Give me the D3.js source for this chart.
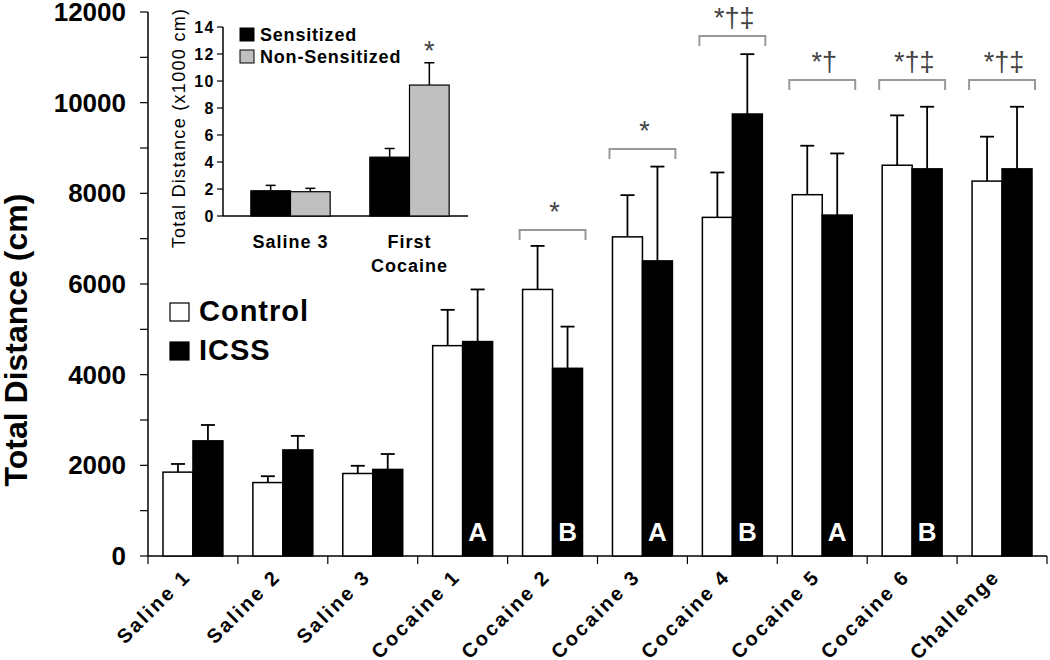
<!DOCTYPE html>
<html>
<head>
<meta charset="utf-8">
<script src="https://cdn.jsdelivr.net/npm/d3@7"></script>
<style>
  body { margin: 0; background: #fff; }
  text { font-family: Arial, 'Liberation Sans', sans-serif; }
</style>
</head>
<body>
<svg width="1050" height="660"></svg>
<script>
const categories = ['Saline 1', 'Saline 2', 'Saline 3', 'Cocaine 1', 'Cocaine 2',
    'Cocaine 3', 'Cocaine 4', 'Cocaine 5', 'Cocaine 6', 'Challenge'];
const controlMean = [1850, 1620, 1820, 4640, 5880, 7040, 7470, 7970, 8620, 8270];
const controlSem = [180, 140, 170, 790, 960, 920, 990, 1080, 1100, 980];
const icssMean = [2540, 2340, 1910, 4730, 4140, 6510, 9750, 7520, 8540, 8540];
const icssSem = [350, 310, 340, 1150, 920, 2080, 1320, 1360, 1370, 1370];
const barLetters = ['', '', '', 'A', 'B', 'A', 'B', 'A', 'B', ''];
const yTicks = [0, 2000, 4000, 6000, 8000, 10000, 12000];

// significance brackets: category, symbols, level (cm)
const sigCats = ['Cocaine 2', 'Cocaine 3', 'Cocaine 4', 'Cocaine 5', 'Cocaine 6', 'Challenge'];
const sigSymbols = ['*', '*', '*†‡', '*†', '*†‡', '*†‡'];
const sigLevels = [7190, 8980, 11470, 10500, 10500, 10500];

// inset
const insetCats = ['Saline 3', 'First Cocaine'];
const sensMean = [1.87, 4.36];
const sensSem = [0.40, 0.64];
const nonSensMean = [1.80, 9.70];
const nonSensSem = [0.25, 1.65];
const insetTicks = [0, 2, 4, 6, 8, 10, 12, 14];

const svg = d3.select('svg');

const x = d3.scaleBand()
    .domain(categories)
    .range([148, 1047])
    .paddingInner(1 / 3)
    .paddingOuter(1 / 6);

const xSub = d3.scaleBand()
    .domain(['control', 'icss'])
    .range([0, x.bandwidth()]);

const y = d3.scaleLinear()
    .domain([0, 12000])
    .range([556, 12]);

const gridStep = x.step();
const left = x.range()[0];

// axes
svg.append('line')
    .attr('x1', left).attr('x2', left)
    .attr('y1', y(12000)).attr('y2', y(0))
    .attr('stroke', '#000').attr('stroke-width', 1.5);

svg.append('line')
    .attr('x1', left).attr('x2', x.range()[1])
    .attr('y1', y(0)).attr('y2', y(0))
    .attr('stroke', '#000').attr('stroke-width', 1.5);

svg.selectAll('.ytick')
    .data(d3.range(0, 12001, 1000))
    .join('line')
    .attr('x1', left - 8).attr('x2', left)
    .attr('y1', d => y(d)).attr('y2', d => y(d))
    .attr('stroke', '#000').attr('stroke-width', 1.2);

svg.selectAll('.ylabel')
    .data(yTicks)
    .join('text')
    .attr('x', 126)
    .attr('y', d => y(d) + 9)
    .attr('text-anchor', 'end')
    .attr('font-size', 26)
    .attr('font-weight', 'bold')
    .text(d => d);

svg.selectAll('.xtick')
    .data(d3.range(categories.length + 1))
    .join('line')
    .attr('x1', i => left + i * gridStep).attr('x2', i => left + i * gridStep)
    .attr('y1', y(0)).attr('y2', y(0) + 8)
    .attr('stroke', '#000').attr('stroke-width', 1.2);

svg.selectAll('.xlabel')
    .data(categories)
    .join('text')
    .attr('transform', d => `translate(${x(d) + x.bandwidth() / 2 - 1}, 578) rotate(-45)`)
    .attr('text-anchor', 'end')
    .attr('font-size', 20)
    .attr('font-weight', 'bold')
    .attr('letter-spacing', 2.4)
    .text(d => d);

svg.append('text')
    .attr('transform', 'translate(27, 340) rotate(-90)')
    .attr('text-anchor', 'middle')
    .attr('font-size', 32)
    .attr('font-weight', 'bold')
    .text('Total Distance (cm)');

// bars
const groups = svg.selectAll('.grp')
    .data(categories)
    .join('g')
    .attr('transform', d => `translate(${x(d)}, 0)`);

const series = [
    { key: 'control', mean: controlMean, sem: controlSem, fill: '#fff' },
    { key: 'icss', mean: icssMean, sem: icssSem, fill: '#000' }
];

series.forEach(s => {
    const cx = xSub(s.key) + xSub.bandwidth() / 2;
    groups.append('line')
        .attr('x1', cx).attr('x2', cx)
        .attr('y1', (d, i) => y(s.mean[i]))
        .attr('y2', (d, i) => y(s.mean[i] + s.sem[i]))
        .attr('stroke', '#000').attr('stroke-width', 1.8);
    groups.append('line')
        .attr('x1', cx - 7).attr('x2', cx + 7)
        .attr('y1', (d, i) => y(s.mean[i] + s.sem[i]))
        .attr('y2', (d, i) => y(s.mean[i] + s.sem[i]))
        .attr('stroke', '#000').attr('stroke-width', 1.8);
    groups.append('rect')
        .attr('x', xSub(s.key))
        .attr('width', xSub.bandwidth())
        .attr('y', (d, i) => y(s.mean[i]))
        .attr('height', (d, i) => y(0) - y(s.mean[i]))
        .attr('fill', s.fill)
        .attr('stroke', '#000')
        .attr('stroke-width', 1.5);
});

groups.append('text')
    .attr('x', xSub('icss') + xSub.bandwidth() / 2)
    .attr('y', 541)
    .attr('text-anchor', 'middle')
    .attr('fill', '#fff')
    .attr('font-size', 26)
    .attr('font-weight', 'bold')
    .text((d, i) => barLetters[i]);

// significance brackets
sigCats.forEach((c, i) => {
    const x0 = x(c) - 3;
    const x1 = x(c) + x.bandwidth() + 3;
    const ty = y(sigLevels[i]);
    svg.append('path')
        .attr('d', `M${x0},${ty + 10}V${ty}H${x1}V${ty + 10}`)
        .attr('fill', 'none')
        .attr('stroke', '#999')
        .attr('stroke-width', 2);
    svg.append('text')
        .attr('x', (x0 + x1) / 2 + 2)
        .attr('y', ty - 9)
        .attr('text-anchor', 'middle')
        .attr('font-family', "'Liberation Serif', serif")
        .attr('font-size', 27)
        .attr('fill', '#444')
        .text(sigSymbols[i]);
});

// legend
const legend = [
    { label: 'Control', fill: '#fff' },
    { label: 'ICSS', fill: '#000' }
];
legend.forEach((l, i) => {
    svg.append('rect')
        .attr('x', 170).attr('y', 303 + i * 39)
        .attr('width', 19).attr('height', 18)
        .attr('fill', l.fill)
        .attr('stroke', '#000').attr('stroke-width', 1.2);
    svg.append('text')
        .attr('x', 199).attr('y', 321 + i * 39)
        .attr('font-size', 29)
        .attr('font-weight', 'bold')
        .attr('letter-spacing', 1)
        .text(l.label);
});

// inset
const ix = d3.scaleBand()
    .domain(insetCats)
    .range([231, 469])
    .paddingInner(1 / 3)
    .paddingOuter(1 / 6);

const ixSub = d3.scaleBand()
    .domain(['sens', 'non'])
    .range([0, ix.bandwidth()]);

const iy = d3.scaleLinear()
    .domain([0, 14])
    .range([216, 27]);

const inset = svg.append('g');

inset.append('line')
    .attr('x1', 223).attr('x2', 223)
    .attr('y1', iy(14)).attr('y2', iy(0))
    .attr('stroke', '#000').attr('stroke-width', 1.5);

inset.append('line')
    .attr('x1', 223).attr('x2', 468)
    .attr('y1', iy(0)).attr('y2', iy(0))
    .attr('stroke', '#000').attr('stroke-width', 1.5);

inset.selectAll('.itick')
    .data(insetTicks)
    .join('line')
    .attr('x1', 217).attr('x2', 223)
    .attr('y1', d => iy(d)).attr('y2', d => iy(d))
    .attr('stroke', '#000').attr('stroke-width', 1.2);

inset.selectAll('.ilabel')
    .data(insetTicks)
    .join('text')
    .attr('x', 215)
    .attr('y', d => iy(d) + 6)
    .attr('text-anchor', 'end')
    .attr('font-size', 16)
    .attr('font-weight', 'bold')
    .attr('letter-spacing', 1.5)
    .text(d => d);

inset.append('text')
    .attr('transform', 'translate(185, 128) rotate(-90)')
    .attr('text-anchor', 'middle')
    .attr('font-size', 18)
    .attr('letter-spacing', 1.3)
    .text('Total Distance (x1000 cm)');

const iseries = [
    { key: 'sens', mean: sensMean, sem: sensSem, fill: '#000' },
    { key: 'non', mean: nonSensMean, sem: nonSensSem, fill: '#c0c0c0' }
];

const igroups = inset.selectAll('.igrp')
    .data(insetCats)
    .join('g')
    .attr('transform', d => `translate(${ix(d)}, 0)`);

iseries.forEach(s => {
    const cx = ixSub(s.key) + ixSub.bandwidth() / 2;
    igroups.append('line')
        .attr('x1', cx).attr('x2', cx)
        .attr('y1', (d, i) => iy(s.mean[i]))
        .attr('y2', (d, i) => iy(s.mean[i] + s.sem[i]))
        .attr('stroke', '#000').attr('stroke-width', 1.5);
    igroups.append('line')
        .attr('x1', cx - 5).attr('x2', cx + 5)
        .attr('y1', (d, i) => iy(s.mean[i] + s.sem[i]))
        .attr('y2', (d, i) => iy(s.mean[i] + s.sem[i]))
        .attr('stroke', '#000').attr('stroke-width', 1.5);
    igroups.append('rect')
        .attr('x', ixSub(s.key))
        .attr('width', ixSub.bandwidth())
        .attr('y', (d, i) => iy(s.mean[i]))
        .attr('height', (d, i) => iy(0) - iy(s.mean[i]))
        .attr('fill', s.fill)
        .attr('stroke', '#000')
        .attr('stroke-width', 1.2);
});

inset.append('text')
    .attr('x', ix('First Cocaine') + ixSub('non') + ixSub.bandwidth() / 2)
    .attr('y', iy(nonSensMean[1] + nonSensSem[1]) - 3)
    .attr('text-anchor', 'middle')
    .attr('font-family', "'Liberation Serif', serif")
    .attr('font-size', 27)
    .attr('fill', '#444')
    .text('*');

inset.selectAll('.ixlabel')
    .data(insetCats)
    .join('text')
    .attr('x', d => ix(d) + ix.bandwidth() / 2)
    .attr('y', 248)
    .attr('text-anchor', 'middle')
    .attr('font-size', 18)
    .attr('font-weight', 'bold')
    .attr('letter-spacing', 1)
    .each(function (d) {
        const words = d.split(' ');
        const t = d3.select(this);
        if (d === 'First Cocaine') {
            words.forEach((w, k) => {
                t.append('tspan')
                    .attr('x', ix(d) + ix.bandwidth() / 2)
                    .attr('dy', k === 0 ? 0 : 24)
                    .text(w);
            });
        } else {
            t.text(d);
        }
    });

const ilegend = [
    { label: 'Sensitized', fill: '#000' },
    { label: 'Non-Sensitized', fill: '#c0c0c0' }
];
ilegend.forEach((l, i) => {
    inset.append('rect')
        .attr('x', 240).attr('y', 28 + i * 22)
        .attr('width', 14).attr('height', 13)
        .attr('fill', l.fill)
        .attr('stroke', '#000').attr('stroke-width', 1);
    inset.append('text')
        .attr('x', 260).attr('y', 41 + i * 22)
        .attr('font-size', 18)
        .attr('font-weight', 'bold')
        .attr('letter-spacing', 0.8)
        .text(l.label);
});
</script>
</body>
</html>
